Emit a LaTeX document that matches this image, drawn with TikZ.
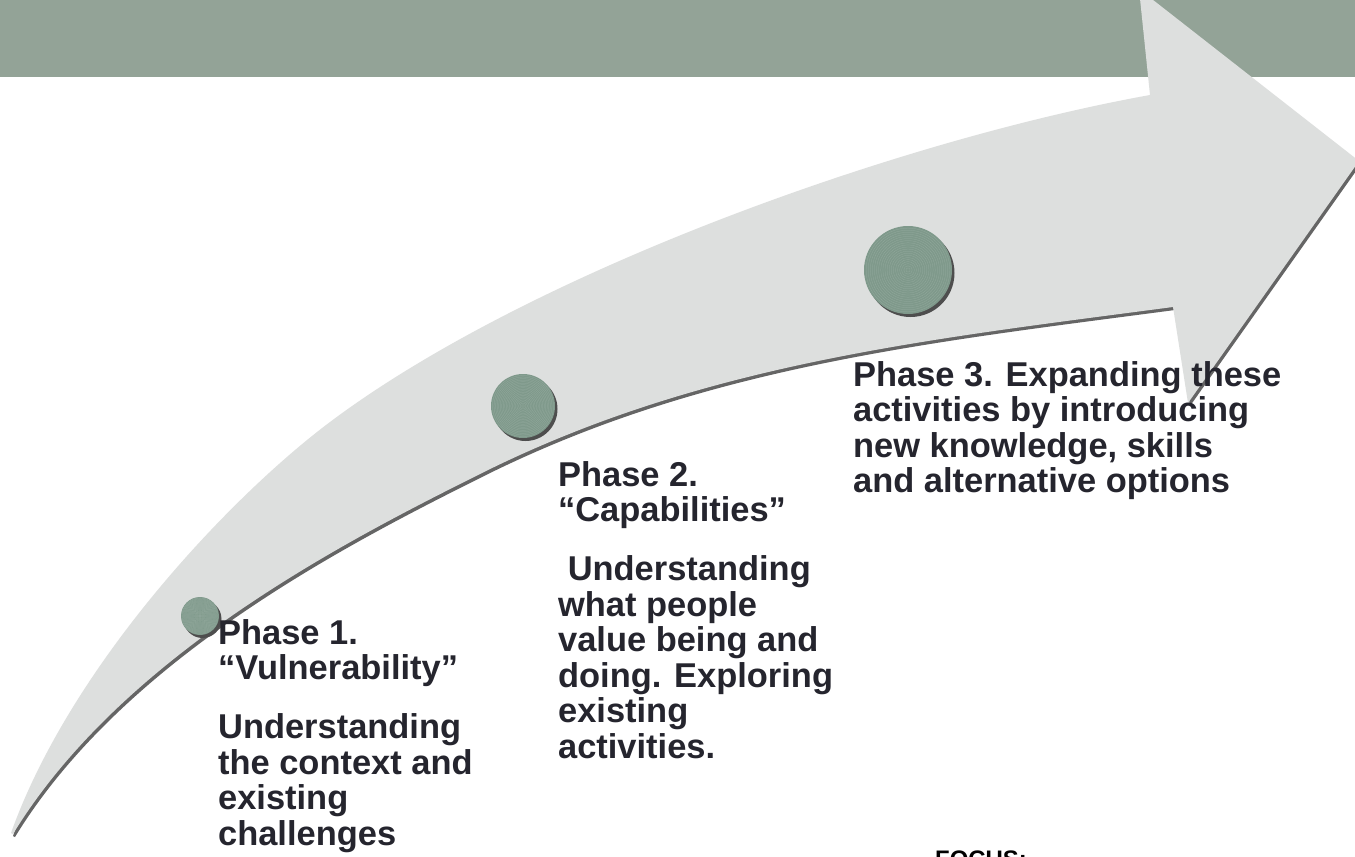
\documentclass[tikz,border=0pt]{standalone}
\usepackage{fontspec}
\setmainfont{Liberation Sans}
\usetikzlibrary{calc}
\definecolor{banner}{HTML}{93A397}
\definecolor{arrowfill}{HTML}{DDDFDE}
\definecolor{shadowc}{HTML}{656565}
\definecolor{dotfill}{HTML}{7F998B}
\definecolor{dotring}{HTML}{95AB9F}
\definecolor{dotshadow}{HTML}{4E4E4E}
\definecolor{txt}{HTML}{25252E}
\newcommand\swoosh[1]{%
  \fill[#1] (11,833)
    .. controls (71,665) and (230,497) .. (330,422)
    .. controls (530,272) and (900,140) .. (1150,95)
    -- (1139,-11) -- (1359,161) -- (1188,403) -- (1173,307)
    .. controls (923,340) and (700,364) .. (480,474)
    .. controls (350,539) and (123,654) .. (13,834)
    -- cycle;}
\newcommand\phasedot[2]{%
  \fill[dotshadow] ($(#1)+(2.5,3)$) circle[radius=#2];
  \fill[dotfill] (#1) circle[radius=#2];
  \foreach \k in {1,...,20}{\pgfmathsetmacro\rr{#2*\k/21}\draw[dotring,line width=0.35pt] (#1) circle[radius=\rr];}
}
\begin{document}
\begin{tikzpicture}[x=0.05cm,y=-0.05cm,
  phase/.style={anchor=north west, inner sep=0pt, align=left, text=txt,
    font=\fontsize{49}{50.5}\selectfont\bfseries},
  focus/.style={anchor=north west, inner sep=0pt, text=black,
    font=\fontsize{34}{36}\selectfont\bfseries}]
\useasboundingbox (0,0) rectangle (1355,857);
\fill[white] (0,0) rectangle (1355,857);
\fill[banner] (0,0) rectangle (1355,77);
\begin{scope}[shift={(2,3)}]\swoosh{shadowc}\end{scope}
\swoosh{arrowfill}
\coordinate (d1) at (200,616);
\coordinate (d2) at (523,406);
\coordinate (d3) at (908,270);
\phasedot{d1}{19}
\phasedot{d2}{32}
\phasedot{d3}{44}
\node[phase] (p1) at (218,619) {Phase 1.\\“Vulnerability”\\[34pt]Understanding\\the context and\\existing\\challenges};
\node[phase] (p2) at (558,461) {Phase 2.\\“Capabilities”\\[34pt]\hspace*{.28em}Understanding\\what people\\value being and\\doing. Exploring\\existing\\activities.};
\node[phase] (p3) at (853,361) {Phase 3. Expanding these\\activities by introducing\\new knowledge, skills\\and alternative options};
\node[focus] (f) at (935,851) {FOCUS:};
\end{tikzpicture}
\end{document}
